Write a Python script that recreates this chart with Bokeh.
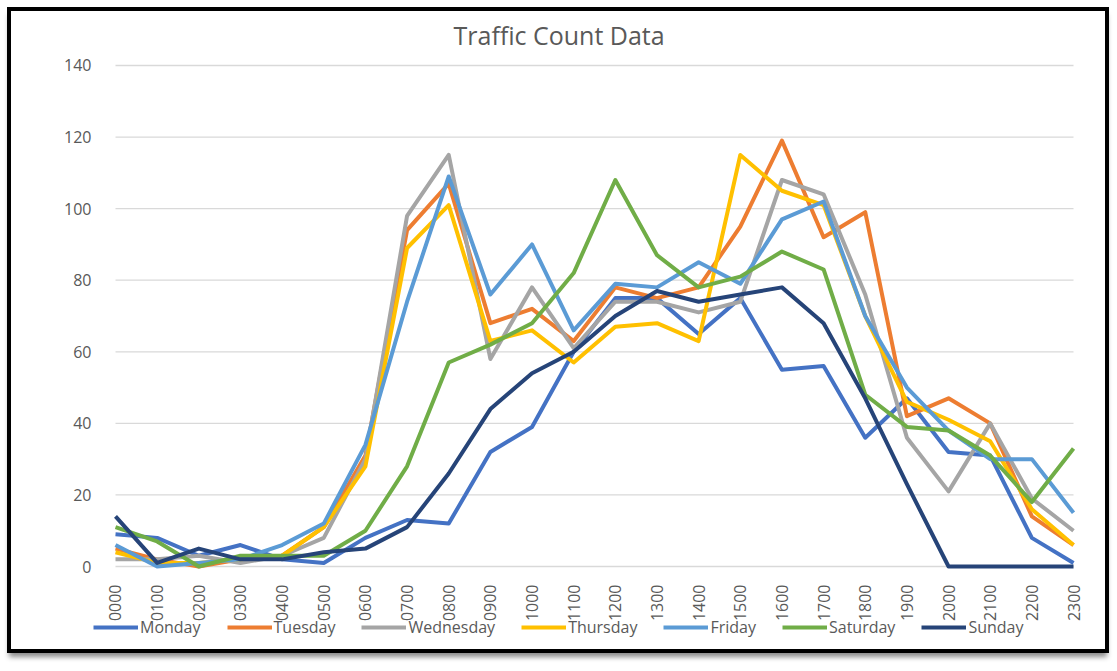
import math
from bokeh.plotting import figure
from bokeh.models import FixedTicker, Legend, LegendItem, Range1d
from bokeh.embed import file_html
from bokeh.resources import INLINE

hours = ["0000", "0100", "0200", "0300", "0400", "0500", "0600", "0700",
         "0800", "0900", "1000", "1100", "1200", "1300", "1400", "1500",
         "1600", "1700", "1800", "1900", "2000", "2100", "2200", "2300"]

monday    = [9, 8, 3, 6, 2, 1, 8, 13, 12, 32, 39, 60, 75, 75, 65, 75, 55, 56, 36, 47, 32, 31, 8, 1]
tuesday   = [5, 2, 0, 2, 3, 11, 31, 94, 107, 68, 72, 63, 78, 75, 78, 95, 119, 92, 99, 42, 47, 40, 14, 6]
wednesday = [2, 2, 3, 1, 3, 8, 30, 98, 115, 58, 78, 61, 74, 74, 71, 74, 108, 104, 76, 36, 21, 40, 19, 10]
thursday  = [4, 1, 1, 2, 3, 11, 28, 89, 101, 63, 66, 57, 67, 68, 63, 115, 105, 101, 70, 46, 41, 35, 16, 6]
friday    = [6, 0, 1, 2, 6, 12, 34, 74, 109, 76, 90, 66, 79, 78, 85, 79, 97, 102, 70, 50, 38, 30, 30, 15]
saturday  = [11, 7, 0, 3, 3, 3, 10, 28, 57, 62, 68, 82, 108, 87, 78, 81, 88, 83, 48, 39, 38, 31, 18, 33]
sunday    = [14, 1, 5, 2, 2, 4, 5, 11, 26, 44, 54, 60, 70, 77, 74, 76, 78, 68, 47, 23, 0, 0, 0, 0]

series_names = ["Monday", "Tuesday", "Wednesday", "Thursday", "Friday", "Saturday", "Sunday"]
series_values = [monday, tuesday, wednesday, thursday, friday, saturday, sunday]
series_colors = ["#4472C4", "#ED7D31", "#A5A5A5", "#FFC000", "#5B9BD5", "#70AD47", "#264478"]

y_ticks = [0, 20, 40, 60, 80, 100, 120, 140]

FONT = "Open Sans"
TEXT = "#595959"

x = list(range(len(hours)))
x_first, x_last = x[0], x[-1]

# The frame is enlarged past the data area so that the axis labels and the
# legend (which sit inside it) are not clipped; both axes are pinned at 0.
p = figure(width=1102, height=646, output_backend="svg", toolbar_location=None,
           x_range=Range1d(-1.3205, 23.648), y_range=Range1d(-23.75, 143.353),
           min_border_left=49, min_border_right=13, min_border_top=42,
           min_border_bottom=6, title="Traffic Count Data")

p.styles = {"border": "4px solid black",
            "margin-left": "7px", "margin-top": "7px",
            "box-shadow": "0 6px 5px -2px rgba(0,0,0,0.45)"}

p.title.align = "left"
p.title.offset = 393
p.title.vertical_align = "middle"
p.title.text_font = FONT
p.title.text_font_size = "25px"
p.title.text_font_style = "normal"
p.title.text_color = TEXT
p.title.standoff = 2

p.outline_line_color = None
p.background_fill_color = "white"
p.border_fill_color = "white"

p.xgrid.visible = False
p.ygrid.visible = False

# horizontal gridlines at the value-axis ticks, spanning the category range only
p.segment(x0=[x_first] * len(y_ticks), y0=y_ticks, x1=[x_last] * len(y_ticks), y1=y_ticks,
          line_color="#D9D9D9", line_width=1.3, level="underlay")

p.yaxis.fixed_location = x_first
p.yaxis.ticker = FixedTicker(ticks=y_ticks)
p.yaxis.axis_line_color = None
p.yaxis.major_tick_line_color = None
p.yaxis.minor_tick_line_color = None
p.yaxis.major_label_standoff = 18
p.yaxis.major_label_text_font = FONT
p.yaxis.major_label_text_font_size = "16px"
p.yaxis.major_label_text_color = TEXT

p.xaxis.fixed_location = 0
p.xaxis.ticker = FixedTicker(ticks=x)
p.xaxis.major_label_overrides = {i: h for i, h in zip(x, hours)}
p.xaxis.major_label_orientation = math.pi / 2
p.xaxis.axis_line_color = None
p.xaxis.major_tick_line_color = None
p.xaxis.minor_tick_line_color = None
p.xaxis.major_label_standoff = 12
p.xaxis.major_label_text_font = FONT
p.xaxis.major_label_text_font_size = "16px"
p.xaxis.major_label_text_color = TEXT

items = []
for name, vals, col in zip(series_names, series_values, series_colors):
    r = p.line(x, vals, line_color=col, line_width=4, line_join="round")
    items.append(LegendItem(label=name, renderers=[r]))

legend = Legend(items=items, orientation="horizontal", location=(33, 13),
                glyph_width=45, glyph_height=20, label_standoff=2, spacing=26,
                padding=3, margin=0, border_line_color=None, background_fill_alpha=0,
                label_text_font=FONT, label_text_font_size="16px",
                label_text_color=TEXT)
p.add_layout(legend)

open("out.html", "w").write(file_html(p, INLINE))
